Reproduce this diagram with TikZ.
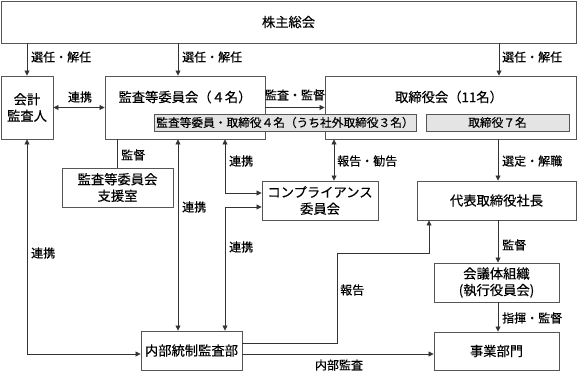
\documentclass[tikz,border=0pt]{standalone}
\usepackage{fontspec}
\setmainfont{Noto Sans CJK JP}[FakeBold=0.25]
\usetikzlibrary{arrows.meta}
\definecolor{boxline}{HTML}{555555}
\definecolor{conline}{HTML}{333333}
\definecolor{greyfill}{HTML}{E4E4E4}
\tikzset{
  box/.style={draw=boxline, line width=0.9pt, fill=white, inner sep=0pt, align=center,
    font=\fontsize{13.3}{16.5}\selectfont},
  greybox/.style={draw=boxline, line width=0.9pt, fill=greyfill, inner sep=0pt,
    font=\fontsize{11.7}{14}\selectfont},
  title/.style={inner sep=0pt, font=\fontsize{13.3}{16}\selectfont},
  lab/.style={inner sep=0pt, anchor=west, font=\fontsize{12}{14}\selectfont},
  clab/.style={inner sep=0pt, font=\fontsize{12}{14}\selectfont},
  con/.style={draw=conline, line width=0.8pt},
  arr/.style={con, -{Triangle[length=5pt,width=5pt]}},
  darr/.style={con, {Triangle[length=5pt,width=5pt]}-{Triangle[length=5pt,width=5pt]}},
}
\begin{document}
\begin{tikzpicture}[x=1pt, y=-1pt]
\useasboundingbox (0,0) rectangle (577,371);
% boxes
\node[box, minimum width=575pt, minimum height=42pt] (kabu) at (288.5,22) {株主総会};
\node[box, minimum width=52pt, minimum height=63pt] (kaikei) at (27,107.5) {会計\\監査人};
\node[box, minimum width=160pt, minimum height=63pt] (kansa) at (185,107.5) {};
\node[title] (kansat) at (185,97) {監査等委員会（４名）};
\node[box, minimum width=251pt, minimum height=63pt] (tori) at (450.5,107.5) {};
\node[title] (torit) at (449,97) {取締役会（11名）};
\node[greybox, minimum width=262pt, minimum height=17pt] (grey1) at (285,122.5) {監査等委員・取締役４名（うち社外取締役３名）};
\node[greybox, minimum width=143pt, minimum height=17pt] (grey2) at (497.5,122.5) {取締役７名};
\node[box, minimum width=111pt, minimum height=39pt] (shien) at (117.5,187.5) {監査等委員会\\支援室};
\node[box, minimum width=116pt, minimum height=39pt] (comp) at (320,200.5) {コンプライアンス\\委員会};
\node[box, minimum width=159pt, minimum height=39pt] (daihyo) at (496.5,200.5) {代表取締役社長};
\node[box, minimum width=125pt, minimum height=39pt] (kaigi) at (496.5,282.5) {会議体組織\\(執行役員会)};
\node[box, minimum width=125pt, minimum height=38pt] (jigyo) at (496.5,351) {事業部門};
\node[box, minimum width=101pt, minimum height=39pt] (naibu) at (191.5,350.5) {内部統制監査部};
% connectors
\draw[arr] (kaikei |- kabu.south) -- (kaikei.north);
\draw[arr] (kabu.south -| 178,0) -- (kansa.north -| 178,0);
\draw[arr] (kabu.south -| 499,0) -- (tori.north -| 499,0);
\draw[darr] (kaikei.east) -- (kansa.west);
\draw[arr] (kansa.east) -- (tori.west);
\draw[con] (kansa.south -| shien) -- (shien.north);
\draw[darr] (kansa.south -| 178,0) -- (naibu.north -| 178,0);
\draw[darr] (kansa.south -| 225,0) -- (225,193) -- (comp.west |- 0,193);
\draw[darr] (naibu.north -| 225,0) -- (225,207) -- (comp.west |- 0,207);
\draw[darr] (tori.south -| 334,0) -- (comp.north -| 334,0);
\draw[arr] (tori.south -| 498,0) -- (daihyo.north -| 498,0);
\draw[arr] (naibu.east |- 0,343) -- (337,343) -- (337,253) -- (429,253) -- (daihyo.south -| 429,0);
\draw[darr] (kaikei.south) -- (kaikei.south |- 0,354) -- (naibu.west |- 0,354);
\draw[arr] (naibu.east |- 0,354) -- (jigyo.west |- 0,354);
\draw[arr] (daihyo.south -| 498,0) -- (kaigi.north -| 498,0);
\draw[arr] (kaigi.south -| 498,0) -- (jigyo.north -| 498,0);
% labels
\node[lab] (l1) at (31,57) {選任・解任};
\node[lab] (l2) at (182,57) {選任・解任};
\node[lab] (l3) at (502,57) {選任・解任};
\node[clab] (l4) at (80,97) {連携};
\node[clab] (l5) at (295,95) {監査・監督};
\node[lab] (l6) at (121,155) {監督};
\node[lab] (l7) at (182,207) {連携};
\node[lab] (l8) at (229,161) {連携};
\node[lab] (l9) at (229,247) {連携};
\node[lab] (l10) at (31,253) {連携};
\node[lab] (l11) at (337,161) {報告・勧告};
\node[lab] (l12) at (502,161) {選定・解職};
\node[lab] (l13) at (502,245) {監督};
\node[lab] (l14) at (502,318) {指揮・監督};
\node[lab] (l15) at (340,290) {報告};
\node[clab] (l16) at (339,365) {内部監査};
\end{tikzpicture}
\end{document}
